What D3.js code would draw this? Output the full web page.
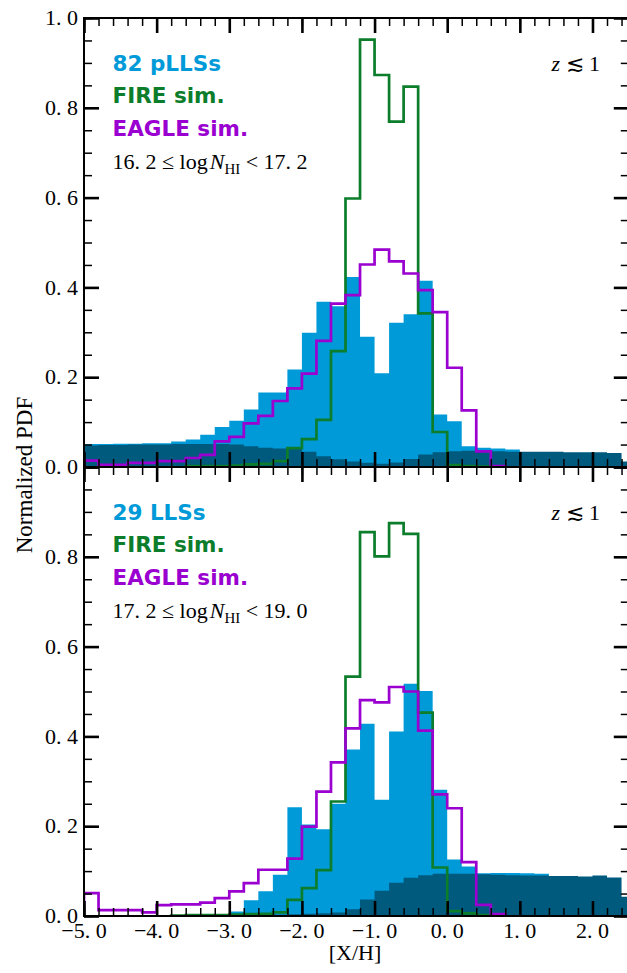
<!DOCTYPE html>
<html>
<head>
<meta charset="utf-8">
<script src="https://cdn.jsdelivr.net/npm/d3@7"></script>
<style>
  body { margin: 0; background: #ffffff; }
  svg { display: block; }
</style>
</head>
<body>
<div class="canvas"></div>
<script>
// bin left edges of [X/H], 0.2 wide
const binLefts = [-5.0, -4.8, -4.6, -4.4, -4.2, -4.0, -3.8, -3.6, -3.4, -3.2,
  -3.0, -2.8, -2.6, -2.4, -2.2, -2.0, -1.8, -1.6, -1.4, -1.2,
  -1.0, -0.8, -0.6, -0.4, -0.2, 0.0, 0.2, 0.4, 0.6, 0.8,
  1.0, 1.2, 1.4, 1.6, 1.8, 2.0, 2.2, 2.4];
const binWidth = 0.2;

// top panel: pLLSs
const topObs = [0.051, 0.051, 0.052, 0.052, 0.053, 0.053, 0.057, 0.061, 0.072, 0.089,
  0.103, 0.128, 0.166, 0.166, 0.217, 0.299, 0.368, 0.358, 0.423, 0.290,
  0.209, 0.321, 0.340, 0.415, 0.117, 0.102, 0.046, 0.043, 0.041, 0.039,
  0, 0, 0, 0, 0, 0, 0, 0];
const topDark = [0.048, 0.049, 0.049, 0.050, 0.050, 0.050, 0.051, 0.051, 0.051, 0.051,
  0.050, 0.046, 0.043, 0.041, 0.040, 0.034, 0.024, 0.017, 0.0125, 0.0095,
  0.007, 0.010, 0.018, 0.028, 0.033, 0.035, 0.036, 0.036, 0.035, 0.034,
  0.034, 0.034, 0.034, 0.033, 0.033, 0.033, 0.031, 0.012];
const topFire = [null, null, null, null, null, null, null, 0.002, 0.002, 0.002,
  0.003, 0.006, 0.007, 0.013, 0.042, 0.062, 0.105, 0.258, 0.598, 0.952,
  0.873, 0.769, 0.847, 0.342, 0.078, 0.004, 0.002, 0.001, null, null,
  null, null, null, null, null, null, null, null];
const topEagle = [0.014, 0.005, 0.005, 0.009, 0.009, 0.013, 0.013, 0.020, 0.027, 0.057,
  0.067, 0.097, 0.114, 0.147, 0.175, 0.208, 0.281, 0.364, 0.383, 0.451,
  0.484, 0.458, 0.431, 0.394, 0.345, 0.221, 0.126, 0.035, 0.002, null,
  null, null, null, null, null, null, null, null];

// bottom panel: LLSs
const botObs = [0, 0, 0, 0, 0, 0, 0, 0, 0, 0,
  0.010, 0.035, 0.055, 0.092, 0.242, 0.204, 0.193, 0.250, 0.371, 0.428,
  0.259, 0.411, 0.517, 0.501, 0.281, 0.126, 0.110, 0.095, 0.096, 0.096,
  0.095, 0.094, 0, 0, 0, 0, 0, 0];
const botDark = [0.001, 0.001, 0.001, 0.001, 0.001, 0.001, 0.001, 0.001, 0.001, 0.001,
  0.002, 0.002, 0.003, 0.003, 0.004, 0.005, 0.006, 0.008, 0.015, 0.037,
  0.056, 0.074, 0.085, 0.091, 0.094, 0.094, 0.094, 0.093, 0.092, 0.091,
  0.090, 0.090, 0.089, 0.089, 0.088, 0.090, 0.086, 0.043];
const botFire = [null, null, null, null, null, null, 0.001, 0.002, 0.002, 0.002,
  0.003, 0.004, 0.005, 0.008, 0.036, 0.062, 0.102, 0.255, 0.533, 0.855,
  0.801, 0.875, 0.851, 0.453, 0.108, 0.011, 0.006, 0.002, null, null,
  null, null, null, null, null, null, null, null];
const botEagle = [0.051, 0.013, 0.013, 0.013, 0.008, 0.024, 0.026, 0.026, 0.030, 0.040,
  0.055, 0.073, 0.103, 0.103, 0.128, 0.199, 0.277, 0.342, 0.418, 0.481,
  0.476, 0.510, 0.500, 0.413, 0.271, 0.240, 0.120, 0.025, 0.004, null,
  null, null, null, null, null, null, null, null];

const xTicks = [-5, -4, -3, -2, -1, 0, 1, 2];
const xTickLabels = ["\u22125. 0", "\u22124. 0", "\u22123. 0", "\u22122. 0", "\u22121. 0", "0. 0", "1. 0", "2. 0"];
const yTicks = [0, 0.2, 0.4, 0.6, 0.8, 1.0];
const yTickLabels = ["0. 0", "0. 2", "0. 4", "0. 6", "0. 8", "1. 0"];

const panelInfo = [
  { count: "82 pLLSs", lo: "16. 2", hi: "17. 2", obs: topObs, dark: topDark, fire: topFire, eagle: topEagle },
  { count: "29 LLSs", lo: "17. 2", hi: "19. 0", obs: botObs, dark: botDark, fire: botFire, eagle: botEagle }
];

const W = 627, H = 973;
const left = 84, right = 628.8, panelH = 449, top0 = 18;
const cLight = "#009ad8", cDark = "#005a7e", cFire = "#0b7d2b", cEagle = "#9a00d0";
const serif = "'Liberation Serif', 'Times New Roman', serif";
const sans = "'DejaVu Sans', sans-serif";

const svg = d3.select(".canvas").append("svg").attr("width", W).attr("height", H);
const x = d3.scaleLinear([-5, 2.5], [left, right]);

const minorX = d3.range(-5, 2.51, 0.2);
const minorY = d3.range(0, 1.001, 0.05);

function stepPoints(vals) {
  const idx = vals.map((v, i) => (v == null ? -1 : i)).filter(i => i >= 0);
  const a = idx[0], b = idx[idx.length - 1];
  const pts = [[binLefts[a], 0]];
  for (let i = a; i <= b; i++) pts.push([binLefts[i], vals[i]]);
  pts.push([binLefts[b] + binWidth, vals[b]], [binLefts[b] + binWidth, 0]);
  return pts;
}

function areaPoints(vals) {
  const pts = vals.map((v, i) => [binLefts[i], v]);
  pts.push([binLefts[vals.length - 1] + binWidth, vals[vals.length - 1]]);
  return pts;
}

function tickAxis(g, axis, vals, size, width) {
  g.call(axis.tickValues(vals).tickSize(-size).tickFormat(""));
  g.select(".domain").remove();
  g.selectAll(".tick line").attr("stroke", "#000").attr("stroke-width", width);
}

panelInfo.forEach((p, k) => {
  const top = top0 + k * panelH;
  const bottom = top + panelH;
  const y = d3.scaleLinear([0, 1], [bottom, top]);
  const g = svg.append("g");

  const clipId = "clip" + k;
  svg.append("clipPath").attr("id", clipId)
    .append("rect").attr("x", left).attr("y", top).attr("width", right - left).attr("height", panelH);

  const plot = g.append("g").attr("clip-path", `url(#${clipId})`);

  const area = d3.area().x(d => x(d[0])).y0(y(0)).y1(d => y(d[1])).curve(d3.curveStepAfter);
  const line = d3.line().x(d => x(d[0])).y(d => y(d[1])).curve(d3.curveStepAfter);

  plot.append("path").attr("d", area(areaPoints(p.obs))).attr("fill", cLight);
  plot.append("path").attr("d", area(areaPoints(p.dark))).attr("fill", cDark);
  plot.append("path").attr("d", line(stepPoints(p.fire)))
    .attr("fill", "none").attr("stroke", cFire).attr("stroke-width", 2.7).attr("stroke-linejoin", "miter");
  plot.append("path").attr("d", line(stepPoints(p.eagle)))
    .attr("fill", "none").attr("stroke", cEagle).attr("stroke-width", 2.7).attr("stroke-linejoin", "miter");

  // ticks on all four sides, pointing inward
  const sides = [
    [() => d3.axisBottom(x), `translate(0,${bottom})`, minorX, xTicks],
    [() => d3.axisTop(x), `translate(0,${top})`, minorX, xTicks],
    [() => d3.axisLeft(y), `translate(${left},0)`, minorY, yTicks],
    [() => d3.axisRight(y), `translate(${right},0)`, minorY, yTicks]
  ];
  sides.forEach(([makeAxis, tr, minor, major]) => {
    tickAxis(g.append("g").attr("transform", tr), makeAxis(), minor, 8, 1.5);
    tickAxis(g.append("g").attr("transform", tr), makeAxis(), major, 15, 2.6);
  });

  g.append("rect").attr("x", left).attr("y", top).attr("width", right - left).attr("height", panelH)
    .attr("fill", "none").attr("stroke", "#000").attr("stroke-width", 2);

  // y tick labels (bottom panel omits the top one)
  const yl = k === 0 ? yTicks : yTicks.slice(0, 5);
  g.selectAll(".ylab").data(yl).join("text")
    .attr("x", left - 6).attr("y", d => y(d)).attr("dy", "0.33em")
    .attr("text-anchor", "end").attr("font-family", serif).attr("font-size", 22)
    .text((d, i) => yTickLabels[i]);

  if (k === 1) {
    g.selectAll(".xlab").data(xTicks).join("text")
      .attr("x", d => x(d)).attr("y", bottom + 22)
      .attr("text-anchor", "middle").attr("font-family", serif).attr("font-size", 22)
      .text((d, i) => xTickLabels[i]);
  }

  // legend
  const lx = 112.5;
  const leg = [[p.count, cLight], ["FIRE sim.", cFire], ["EAGLE sim.", cEagle]];
  leg.forEach(([t, c], i) => {
    g.append("text").attr("x", lx).attr("y", top + 52.5 + i * 32.7)
      .attr("font-family", sans).attr("font-weight", "bold").attr("font-size", 21.5)
      .attr("fill", c).text(t);
  });
  const m = g.append("text").attr("x", lx).attr("y", top + 150.5)
    .attr("font-family", serif).attr("font-size", 22).attr("fill", "#000");
  m.append("tspan").text(p.lo + " \u2264 log");
  m.append("tspan").attr("font-style", "italic").attr("dx", 2).text("N");
  m.append("tspan").attr("font-size", 15).attr("dy", 5).text("HI");
  m.append("tspan").attr("dy", -5).text(" < " + p.hi);

  const z = g.append("text").attr("x", 600).attr("y", top + 52.5)
    .attr("text-anchor", "end").attr("font-family", serif).attr("font-size", 22);
  z.append("tspan").attr("font-style", "italic").text("z");
  z.append("tspan").text(" \u2272 1");
});

svg.append("text").attr("transform", `translate(31.5,${top0 + panelH + 8}) rotate(-90)`)
  .attr("text-anchor", "middle").attr("font-family", serif).attr("font-size", 23)
  .text("Normalized PDF");

svg.append("text").attr("x", 355).attr("y", 960)
  .attr("text-anchor", "middle").attr("font-family", serif).attr("font-size", 22)
  .text("[X/H]");
</script>
</body>
</html>
